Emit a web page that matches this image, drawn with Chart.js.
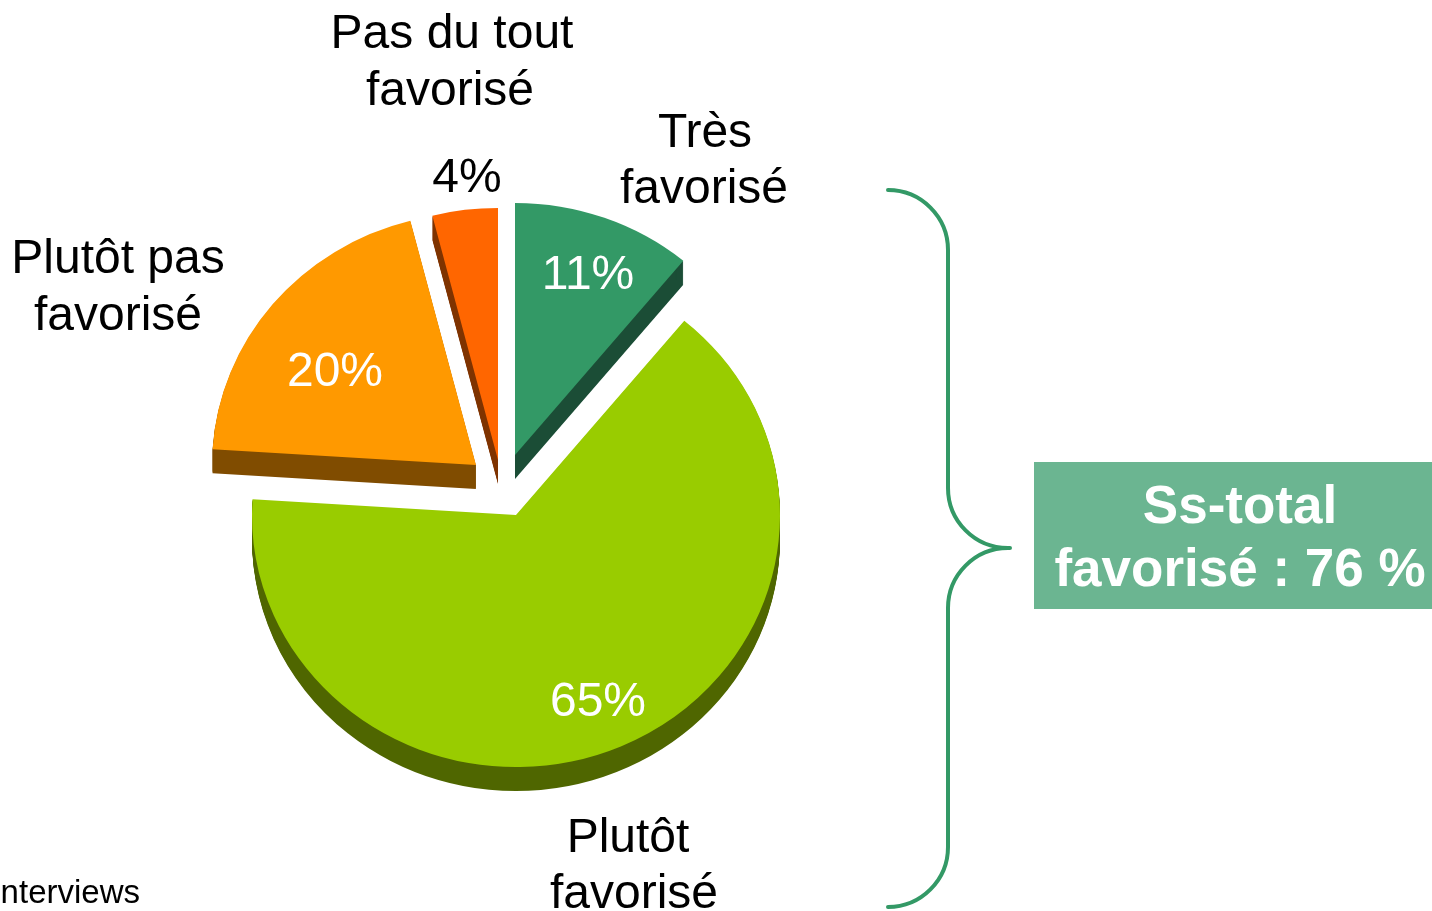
<!DOCTYPE html>
<html lang="fr">
<head>
    <meta charset="UTF-8">
    <title>Ss-total favorisé</title>
    <script src="https://cdn.jsdelivr.net/npm/chart.js"></script>
    <style>
        html, body { margin: 0; padding: 0; background: #fff; }
        .chart-container { position: relative; width: 1432px; height: 911px; }
    </style>
</head>
<body>

    <div class="chart-container">
        <canvas id="pieChart"></canvas>
    </div>

    <script>
        // data
        const categories = ["Très favorisé", "Plutôt favorisé", "Plutôt pas favorisé", "Pas du tout favorisé"];
        const values = [11, 65, 20, 4];
        const subTotalLabel = ["Ss-total", "favorisé : 76 %"];
        const footNote = "interviews";

        const sliceColors = ["#339966", "#99CC00", "#FF9900", "#FF6600"];
        const sideColors = ["#1B4D36", "#4F6600", "#804C00", "#7F3300"];
        // how far each slice is pulled out of the pie (screen px)
        const explode = [[-1, -60], [0, 0], [-40, -50], [-18, -55]];
        const depth = 24;    // thickness of the "3D" edge
        const tilt = 0.955;  // pie is seen slightly from above

        const FONT = '"Liberation Sans", Arial, sans-serif';

        // where the category names and percentages sit
        const nameSpots = [
            { lines: ["Très", "favorisé"], x: [705, 704], y: [147, 203] },
            { lines: ["Plutôt", "favorisé"], x: [628, 634], y: [852, 908] },
            { lines: ["Plutôt pas", "favorisé"], x: [118, 118], y: [273, 330] },
            { lines: ["Pas du tout", "favorisé"], x: [452, 450], y: [48, 105] }
        ];
        const pctSpots = [
            { x: 588, y: 289, color: "#fff" },
            { x: 598, y: 716, color: "#fff" },
            { x: 335, y: 386, color: "#fff" },
            { x: 467, y: 192, color: "#000" }
        ];

        // draws the exploded slices with a dark extruded edge underneath
        const pie3d = {
            id: 'pie3d',
            beforeDatasetDraw(chart, args) {
                const ctx = chart.ctx;
                const arcs = args.meta.data;
                if (!arcs.length) return false;
                const cx = arcs[0].x, cy = arcs[0].y;

                ctx.save();
                ctx.translate(cx, cy);
                ctx.scale(1, tilt);
                ctx.translate(-cx, -cy);

                arcs.forEach((arc, i) => {
                    const dx = explode[i][0], dy = explode[i][1] / tilt;
                    ctx.fillStyle = sideColors[i];
                    for (let d = 1; d <= depth; d++) {
                        const yy = arc.y + dy + d / tilt;
                        ctx.beginPath();
                        ctx.moveTo(arc.x + dx, yy);
                        ctx.arc(arc.x + dx, yy, arc.outerRadius, arc.startAngle, arc.endAngle);
                        ctx.closePath();
                        ctx.fill();
                    }
                });

                arcs.forEach((arc, i) => {
                    ctx.save();
                    ctx.translate(explode[i][0], explode[i][1] / tilt);
                    arc.draw(ctx);
                    ctx.restore();
                });

                ctx.restore();
                return false;
            }
        };

        const annotations = {
            id: 'annotations',
            afterDraw(chart) {
                const ctx = chart.ctx;
                ctx.save();
                ctx.textAlign = 'center';
                ctx.textBaseline = 'alphabetic';

                // category names
                ctx.fillStyle = '#000';
                ctx.font = '48px ' + FONT;
                nameSpots.forEach(s => {
                    s.lines.forEach((t, k) => ctx.fillText(t, s.x[k], s.y[k]));
                });

                // percentages
                values.forEach((v, i) => {
                    ctx.fillStyle = pctSpots[i].color;
                    ctx.fillText(v + '%', pctSpots[i].x, pctSpots[i].y);
                });

                // brace
                ctx.strokeStyle = '#339966';
                ctx.lineWidth = 4;
                ctx.lineCap = 'round';
                ctx.beginPath();
                ctx.arc(888, 250, 60, -Math.PI / 2, 0);
                ctx.lineTo(948, 488);
                ctx.arc(1008, 488, 60, Math.PI, Math.PI / 2, true);
                ctx.moveTo(1010, 548);
                ctx.arc(1008, 608, 60, -Math.PI / 2, Math.PI, true);
                ctx.lineTo(948, 847);
                ctx.arc(888, 847, 60, 0, Math.PI / 2);
                ctx.stroke();

                // sub-total box
                ctx.fillStyle = '#6BB591';
                ctx.fillRect(1034, 462, 400, 147);
                ctx.fillStyle = '#fff';
                ctx.font = 'bold 53px ' + FONT;
                ctx.fillText(subTotalLabel[0], 1240, 523);
                ctx.fillText(subTotalLabel[1], 1240, 586);

                // cut-off source note
                ctx.fillStyle = '#000';
                ctx.font = '33px ' + FONT;
                ctx.textAlign = 'right';
                ctx.fillText(footNote, 140, 903);
                ctx.restore();
            }
        };

        const ctx = document.getElementById('pieChart').getContext('2d');

        const pieChart = new Chart(ctx, {
            type: 'pie',
            data: {
                labels: categories,
                datasets: [{
                    data: values,
                    backgroundColor: sliceColors,
                    borderWidth: 0
                }]
            },
            options: {
                responsive: true,
                maintainAspectRatio: false,
                animation: false,
                radius: 264,
                layout: { padding: { left: 0, right: 400, top: 119, bottom: 0 } },
                plugins: {
                    legend: { display: false },
                    tooltip: { enabled: false }
                }
            },
            plugins: [pie3d, annotations]
        });
    </script>
</body>
</html>
